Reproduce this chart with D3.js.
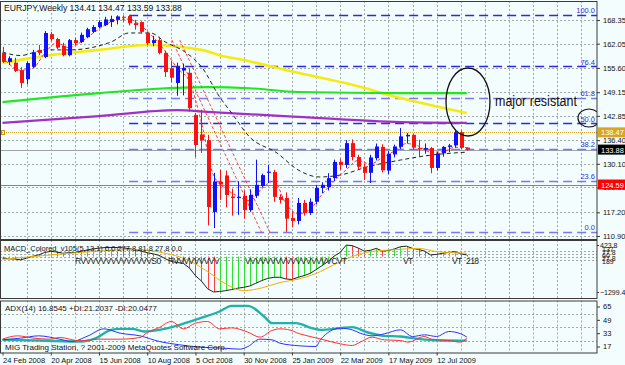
<!DOCTYPE html>
<html>
<head>
<meta charset="utf-8">
<script src="https://cdnjs.cloudflare.com/ajax/libs/d3/7.8.5/d3.min.js"></script>
<style>
	html, body { margin: 0; padding: 0; background: #f4fdfd; }
	svg { display: block; font-family: "Liberation Sans", Arial, sans-serif; }
</style>
</head>
<body>
<svg id="chart" width="625" height="365"></svg>
<script>

// weekly EURJPY bars, 24 Feb 2008 .. 16 Aug 2009
const opens = [159.6,157.2,157.0,155.0,152.6,155.9,160.4,158.5,164.6,163.3,161.5,159.0,163.0,162.5,163.8,165.2,166.5,167.0,167.8,168.4,
	169.2,169.4,167.5,167.8,164.9,162.2,163.0,159.6,155.5,151.6,154.9,154.3,143.1,137.9,136.4,117.3,125.3,127.0,121.4,121.0,
	121.6,117.8,121.6,124.2,127.7,127.9,121.3,121.0,115.7,114.9,119.7,117.0,120.0,123.7,123.9,126.3,130.6,129.8,135.6,131.9,
	129.3,127.7,131.6,134.6,128.3,132.6,134.6,137.4,137.8,134.3,133.9,134.3,129.0,132.9,134.6,135.0,138.5,134.41];
const highs = [161.2,158.7,158.3,155.8,157.4,160.4,161.7,165.4,165.2,163.6,162.3,163.3,163.6,165.0,166.3,167.0,168.3,169.2,169.5,169.6,
	169.6,169.70,168.4,168.0,165.3,164.1,163.9,160.2,157.4,157.0,156.7,155.5,143.6,144.5,137.8,127.7,128.5,128.3,123.5,125.5,
	123.0,123.3,131.2,127.5,129.8,128.5,122.0,122.5,117.5,121.0,120.5,120.9,124.5,125.2,127.6,131.2,131.5,136.4,136.6,132.5,
	130.2,132.5,135.5,135.3,133.5,135.2,139.6,138.3,138.0,136.5,135.5,134.6,133.3,134.8,135.4,139.0,139.0,134.47];
const lows = [156.9,156.4,154.5,150.3,151.2,155.6,159.0,158.2,162.8,160.6,158.7,158.7,161.7,162.2,163.5,164.9,166.2,166.7,166.5,167.2,
	167.9,166.9,165.8,164.8,161.6,161.4,159.2,153.2,151.8,148.2,148.3,144.0,131.9,133.0,113.7,113.0,120.5,118.5,116.3,116.5,
	115.5,117.3,121.0,123.8,125.0,120.0,119.5,112.00,113.2,114.0,116.3,116.5,119.3,122.3,123.0,125.5,128.5,129.0,131.0,128.7,
	125.8,125.0,131.0,127.8,127.3,131.8,134.0,135.5,133.8,132.0,132.8,127.6,128.3,132.0,133.2,134.4,134.0,133.59];
const closes = [157.2,158.2,154.8,151.6,156.9,159.8,159.6,164.9,163.3,161.0,159.0,163.0,162.2,164.4,165.9,166.5,167.8,168.5,168.6,169.3,
	169.0,167.5,167.0,165.2,162.2,163.0,159.6,154.5,153.0,155.9,155.6,144.9,135.1,136.3,118.6,125.3,124.6,121.8,121.0,121.3,
	117.8,121.8,124.5,127.1,128.0,121.3,120.5,115.5,114.9,119.7,117.0,120.0,123.7,124.5,126.3,130.6,129.8,135.6,131.9,129.3,
	127.7,131.8,134.7,128.4,132.8,134.7,137.4,137.8,134.4,133.9,134.3,129.0,132.9,134.6,135.0,138.5,134.4,133.88];

// moving averages, [bar, price]
const yellowMA = [[0,156.9],[8,159.0],[16,160.4],[24,161.7],[33,160.4],[36,159.0],[40,157.7],[49,154.3],[58,151.1],[66,147.6],[77,143.6]];
const greenMA = [[0,146.5],[16,148.9],[25,150.0],[34,150.5],[41,150.2],[49,149.2],[66,148.9],[77,148.9]];
const purpleMA = [[0,141.0],[16,142.8],[29,144.4],[34,143.9],[49,142.6],[66,141.2],[77,141.0]];
const redMA = [[0,158.5],[3,155.0],[5,155.5],[7,159.5],[9,162.3],[11,161.0],[13,162.5],[15,164.8],[17,167.0],[19,168.4],[21,168.6],
	[23,166.8],[25,163.8],[27,160.0],[29,155.5],[31,152.0],[33,141.0],[35,127.0],[37,123.5],[39,121.5],[41,120.3],[43,123.5],
	[45,125.5],[47,119.5],[49,116.8],[51,118.0],[53,122.0],[55,125.5],[57,128.5],[59,131.0],[61,130.0],[63,131.8],[65,133.5],
	[67,135.5],[69,134.8],[71,133.2],[73,133.3],[75,134.5],[77,134.4]];
const blackMA = [[0,159.8],[3,158.9],[7,160.4],[11,160.4],[18,162.5],[21,164.9],[24.5,164.9],[27,162.5],[30.5,159.6],[33,155.9],
	[36,147.9],[38,143.6],[41,137.2],[45.5,133.0],[49,128.5],[52.5,126.6],[56,127.1],[60.5,129.3],[66,131.1],[71,132.4],[75,133.0],[77,133.2]];
// two red dashed trend lines, [bar, price]
const trendLines = [[[28.1,163.0],[43.0,111.7]], [[29.4,163.0],[44.4,111.7]]];

// fibonacci retracement and horizontal levels
const fibHigh = 169.70, fibLow = 112.00, fibBar = 21;
const fibLevels = [100.0, 76.4, 61.8, 50.0, 38.2, 23.6, 0.0];
const bidPrice = 133.88, alertPrice = 138.47, supportPrice = 124.59;
const priceTicks = [168.35, 162.05, 155.60, 149.15, 142.85, 136.40, 130.10, 123.80, 117.20, 110.90];

// MACD panel
const macdMain = [-60,-80,-90,-120,-60,10,60,150,190,170,120,140,150,190,240,280,310,330,335,330,
	320,290,250,200,140,100,40,-80,-180,-220,-250,-420,-700,-900,-1180,-1299,-1280,-1250,-1210,-1160,
	-1130,-1080,-980,-880,-800,-760,-760,-820,-840,-760,-700,-620,-480,-330,-180,20,150,420,400,310,
	200,230,300,200,220,280,360,380,300,260,200,60,80,120,150,180,100,60];
const macdSignal = [[0,-100],[8,60],[16,200],[22,260],[27,120],[31,-150],[34,-550],[37,-1000],[40,-1250],[43,-1150],[46,-950],
	[49,-830],[52,-620],[55,-300],[58,0],[61,180],[65,250],[69,300],[72,180],[75,140],[77,120]];
const macdTicks = [423.8, -1299.4];
const macdLevelTags = [[249, '137'], [252, '77.8'], [255, '60'], [258, '27.8'], [261, '189']];

// ADX panel, [bar, value]
const adxLine = [[0,17.8],[6,17],[13,15.8],[15.5,19.8],[18,29.8],[19.5,31],[21.5,31],[23.5,27.8],[26,29.8],[29.4,35.8],[32.8,43.8],
	[36,51.8],[38,58.6],[40.7,58.6],[43.4,45.8],[44.7,37.8],[48.7,37.8],[51.3,31.8],[52.7,29.8],[56,31.8],[58,33],[60.6,26.6],
	[63.3,22.6],[66,21.8],[69.2,18.6],[72.6,17],[77,16.9]];
const plusDI = [[0,17.8],[3,19.8],[6,22.6],[9.5,18.6],[11.5,15.8],[14.2,22.6],[16.8,31],[19.5,25.8],[22.8,22.6],[26,15.8],[29.4,11.8],
	[32.8,9],[36.7,7.8],[39.4,6.6],[40.7,9.8],[42.7,18.6],[44.7,17.8],[46,13.8],[49.3,10.6],[52,9.8],[52.7,17.8],[56,31.8],
	[58,29.8],[59.3,25.8],[61.3,22.6],[63.3,25],[66,29.8],[68,21.8],[70,23.8],[72,21.8],[74,27.8],[76,25],[77,21.2]];
const minusDI = [[0,18.6],[2.5,22.6],[5,20],[7.8,18.6],[9.5,20.6],[12.8,16.6],[16,18.6],[19.5,18.6],[22.8,20.6],[24,26.6],[26,32.6],
	[28,39.8],[30,31],[32,37.8],[34,39.8],[36,31],[38,32.2],[40.7,27],[42.7,21],[44.7,29],[46,31],[47.3,30.2],[49.3,25],
	[52.7,19],[56,13],[58,11],[59.3,15],[61.3,21],[63.3,17.8],[66,17],[67.3,15],[69.9,21.8],[71.2,18.6],[73.9,17],[76,15],[77,20.05]];
const adxTicks = [65, 49, 33, 17];

const dateTickBars = [0, 8, 16, 24, 32, 40, 48, 56, 64, 72];
const dateLabels = ["24 Feb 2008", "20 Apr 2008", "15 Jun 2008", "10 Aug 2008", "5 Oct 2008",
	"30 Nov 2008", "25 Jan 2009", "22 Mar 2009", "17 May 2009", "12 Jul 2009"];

const BG = '#f4fdfd',
	GRID = '#a3a9a9',
	FRAME = '#3a3a3a',
	BULL = '#1010ff',
	BEAR = '#ff1010',
	PLOT_RIGHT = 597,
	MAIN_TOP = 1, MAIN_BOTTOM = 239,
	MACD_TOP = 240, MACD_BOTTOM = 298,
	ADX_TOP = 300.5, ADX_BOTTOM = 352.5;

let svg = d3.select('#chart');
svg.append('rect').attr('width', 625).attr('height', 365).attr('fill', BG);

let x = d3.scaleLinear().domain([0, 77]).range([2.5, 2.5 + 77 * 6.03]),
	y = d3.scaleLinear().domain([110.90, 168.35]).range([236, 20]),
	yMacd = d3.scaleLinear().domain([-1299.4, 423.8]).range([292, 245]),
	yAdx = d3.scaleLinear().domain([17, 65]).range([340.5, 300.5]);

// clip regions for each panel
let defs = svg.append('defs');
[['clipMain', MAIN_TOP, MAIN_BOTTOM], ['clipMacd', MACD_TOP, MACD_BOTTOM], ['clipAdx', ADX_TOP, ADX_BOTTOM]].forEach(c => {
	defs.append('clipPath').attr('id', c[0]).append('rect')
		.attr('x', 1).attr('y', c[1]).attr('width', PLOT_RIGHT - 1).attr('height', c[2] - c[1]);
});

let main = svg.append('g').attr('clip-path', 'url(#clipMain)'),
	macdG = svg.append('g').attr('clip-path', 'url(#clipMacd)'),
	adxG = svg.append('g').attr('clip-path', 'url(#clipAdx)');

// vertical grid every 4 bars
let gridBars = d3.range(4, 99, 4);
[[main, MAIN_TOP, MAIN_BOTTOM], [macdG, MACD_TOP, MACD_BOTTOM], [adxG, ADX_TOP, ADX_BOTTOM]].forEach(p => {
	p[0].selectAll('line.vgrid').data(gridBars).join('line').attr('class', 'vgrid')
		.attr('x1', d => Math.round(x(d)) + 0.5).attr('x2', d => Math.round(x(d)) + 0.5)
		.attr('y1', p[1]).attr('y2', p[2])
		.attr('stroke', GRID).attr('stroke-dasharray', '2,2');
});

// horizontal grid at the price labels
main.selectAll('line.hgrid').data(priceTicks).join('line').attr('class', 'hgrid')
	.attr('x1', 0).attr('x2', PLOT_RIGHT)
	.attr('y1', d => Math.round(y(d)) + 0.5).attr('y2', d => Math.round(y(d)) + 0.5)
	.attr('stroke', GRID).attr('stroke-dasharray', '2,2');

// horizontal price lines
main.append('line').attr('x1', 0).attr('x2', PLOT_RIGHT)
	.attr('y1', Math.round(y(bidPrice)) + 0.5).attr('y2', Math.round(y(bidPrice)) + 0.5)
	.attr('stroke', '#a0a4a8');
main.append('line').attr('x1', 0).attr('x2', PLOT_RIGHT)
	.attr('y1', Math.round(y(supportPrice)) + 0.5).attr('y2', Math.round(y(supportPrice)) + 0.5)
	.attr('stroke', '#ff5050');
main.append('line').attr('x1', 0).attr('x2', PLOT_RIGHT)
	.attr('y1', Math.round(y(alertPrice)) + 0.5).attr('y2', Math.round(y(alertPrice)) + 0.5)
	.attr('stroke', '#daa520').attr('stroke-dasharray', '1,1');
main.append('rect').attr('x', 1.5).attr('y', Math.round(y(alertPrice)) - 1.5).attr('width', 3).attr('height', 4)
	.attr('fill', 'none').attr('stroke', '#c89020');

// fibonacci levels
let fibY = lv => y(fibLow + (fibHigh - fibLow) * lv / 100);
main.selectAll('line.fib').data(fibLevels).join('line').attr('class', 'fib')
	.attr('x1', x(fibBar)).attr('x2', PLOT_RIGHT)
	.attr('y1', d => Math.round(fibY(d)) + 0.5).attr('y2', d => Math.round(fibY(d)) + 0.5)
	.attr('stroke', d => (d === 100 || d === 76.4 || d === 50) ? '#2a2ae0' : '#7878f0')
	.attr('stroke-width', 1.3)
	.attr('stroke-dasharray', '9,5');
main.selectAll('text.fib').data(fibLevels).join('text').attr('class', 'fib')
	.attr('x', 595).attr('y', d => fibY(d) - 1.5)
	.attr('text-anchor', 'end').attr('font-size', 7.5).attr('fill', '#3030e0')
	.text(d => d.toFixed(1));

// moving averages
let maLine = d3.line().x(d => x(d[0])).y(d => y(d[1])).curve(d3.curveMonotoneX);
main.append('path').attr('d', maLine(yellowMA)).attr('fill', 'none').attr('stroke', '#f4ec10').attr('stroke-width', 2.6);
main.append('path').attr('d', maLine(greenMA)).attr('fill', 'none').attr('stroke', '#22e622').attr('stroke-width', 2.2);
main.append('path').attr('d', maLine(purpleMA)).attr('fill', 'none').attr('stroke', '#a030c8').attr('stroke-width', 2.2);
main.append('path').attr('d', maLine(blackMA)).attr('fill', 'none').attr('stroke', '#202020').attr('stroke-dasharray', '4,3');
main.append('path').attr('d', maLine(redMA)).attr('fill', 'none').attr('stroke', '#ff3030').attr('stroke-dasharray', '3,2');
trendLines.forEach(t => {
	main.append('path').attr('d', d3.line().x(d => x(d[0])).y(d => y(d[1]))(t))
		.attr('fill', 'none').attr('stroke', '#ff4040').attr('stroke-dasharray', '3,2');
});

// candles
let bars = d3.range(opens.length),
	candles = main.selectAll('g.candle').data(bars).join('g').attr('class', 'candle');
candles.append('line')
	.attr('x1', i => Math.round(x(i)) + 0.5).attr('x2', i => Math.round(x(i)) + 0.5)
	.attr('y1', i => y(highs[i])).attr('y2', i => y(lows[i]))
	.attr('stroke', i => closes[i] >= opens[i] ? BULL : BEAR);
candles.append('rect')
	.attr('x', i => Math.round(x(i)) - 1)
	.attr('width', 4)
	.attr('y', i => y(Math.max(opens[i], closes[i])))
	.attr('height', i => Math.max(1, Math.abs(y(opens[i]) - y(closes[i]))))
	.attr('fill', i => closes[i] >= opens[i] ? BULL : BEAR);

// annotations
main.append('ellipse').attr('cx', 468).attr('cy', 102).attr('rx', 22).attr('ry', 34)
	.attr('fill', 'none').attr('stroke', '#111').attr('stroke-width', 1.3);
main.append('ellipse').attr('cx', 589).attr('cy', 118).attr('rx', 11).attr('ry', 9)
	.attr('fill', 'none').attr('stroke', '#111').attr('stroke-width', 1.2);
svg.append('text').attr('x', 495).attr('y', 106).attr('font-size', 14).attr('fill', '#111')
	.attr('textLength', 82).attr('lengthAdjust', 'spacingAndGlyphs')
	.text('major resistant');
svg.append('text').attr('x', 4).attr('y', 11).attr('font-size', 8.6).attr('fill', '#111')
	.text('EURJPY,Weekly  134.41 134.47 133.59 133.88');

// MACD histogram, main and signal
let zeroY = yMacd(0);
macdG.selectAll('line.hist').data(bars).join('line').attr('class', 'hist')
	.attr('x1', i => Math.round(x(i)) + 0.5).attr('x2', i => Math.round(x(i)) + 0.5)
	.attr('y1', zeroY).attr('y2', i => yMacd(macdMain[i]))
	.attr('stroke', i => (i > 0 && macdMain[i] < macdMain[i - 1]) ? '#ff4040' : '#30e030');
[251, 254, 257, 260].forEach(ly => {
	macdG.append('line').attr('x1', 0).attr('x2', PLOT_RIGHT).attr('y1', ly + 0.5).attr('y2', ly + 0.5)
		.attr('stroke', GRID).attr('stroke-dasharray', '2,2');
});
macdG.append('path').attr('d', d3.line().x(i => x(i)).y(i => yMacd(macdMain[i]))(bars))
	.attr('fill', 'none').attr('stroke', '#222');
macdG.append('path').attr('d', d3.line().x(d => x(d[0])).y(d => yMacd(d[1])).curve(d3.curveMonotoneX)(macdSignal))
	.attr('fill', 'none').attr('stroke', '#f0b000');
macdG.append('text').attr('x', 4).attr('y', 251).attr('font-size', 7.5).attr('fill', '#111')
	.text('MACD_Colored_v105(5,13,1) 0.0 277.8 81.8 27.8 0.0');
[[75, 'RVVVVVVVVVVVVVVS0'], [168, 'RVVVVVVVVV'], [245, 'VVVVVVVVVVVVVVVVVCVT'], [403, 'VT'], [452, 'VT'], [466, '218']].forEach(t => {
	macdG.append('text').attr('x', t[0]).attr('y', 264).attr('font-size', 8.5).attr('fill', '#222')
		.attr('letter-spacing', -0.6).text(t[1]);
});

// ADX lines
let adxPath = d3.line().x(d => x(d[0])).y(d => yAdx(d[1])).curve(d3.curveMonotoneX);
adxG.selectAll('line.lvl').data(adxTicks.slice(1)).join('line').attr('class', 'lvl')
	.attr('x1', 0).attr('x2', PLOT_RIGHT)
	.attr('y1', d => Math.round(yAdx(d)) + 0.5).attr('y2', d => Math.round(yAdx(d)) + 0.5)
	.attr('stroke', GRID).attr('stroke-dasharray', '2,2');
adxG.append('path').attr('d', adxPath(adxLine)).attr('fill', 'none').attr('stroke', '#20b2aa').attr('stroke-width', 2.4);
adxG.append('path').attr('d', adxPath(plusDI)).attr('fill', 'none').attr('stroke', '#3030ff');
adxG.append('path').attr('d', adxPath(minusDI)).attr('fill', 'none').attr('stroke', '#ff3030');
adxG.append('text').attr('x', 5).attr('y', 311).attr('font-size', 8).attr('fill', '#111')
	.text('ADX(14) 16.8545 +DI:21.2037 -DI:20.0477');
adxG.append('text').attr('x', 5).attr('y', 350).attr('font-size', 8).attr('fill', '#111')
	.text('MIG Trading Station, ? 2001-2009 MetaQuotes Software Corp.');

// panel frames
[[MAIN_TOP, MAIN_BOTTOM], [MACD_TOP, MACD_BOTTOM], [ADX_TOP, ADX_BOTTOM]].forEach(p => {
	svg.append('rect').attr('x', 0.5).attr('y', p[0] + 0.5).attr('width', PLOT_RIGHT - 0.5).attr('height', p[1] - p[0])
		.attr('fill', 'none').attr('stroke', FRAME);
});

// axes
let styleAxis = g => {
	g.select('.domain').remove();
	g.selectAll('line').attr('stroke', FRAME);
	g.selectAll('text').attr('fill', '#111').attr('font-size', 7.5).attr('font-family', '"Liberation Sans", Arial, sans-serif');
};
svg.append('g').attr('transform', 'translate(' + PLOT_RIGHT + ',0)')
	.call(d3.axisRight(y).tickValues(priceTicks).tickFormat(d3.format('.2f')).tickSize(3).tickPadding(3))
	.call(styleAxis);
svg.append('g').attr('transform', 'translate(' + PLOT_RIGHT + ',0)')
	.call(d3.axisRight(yMacd).tickValues(macdTicks).tickFormat(d3.format('.1f')).tickSize(2).tickPadding(1))
	.call(styleAxis)
	.call(g => g.selectAll('text').attr('font-size', 7));
// overlapping level tags of the MACD window
macdLevelTags.forEach(t => {
	svg.append('text').attr('x', 602).attr('y', t[0] + 2.5).attr('font-size', 7).attr('fill', '#111').text(t[1]);
});
svg.append('g').attr('transform', 'translate(' + PLOT_RIGHT + ',6)')
	.call(d3.axisRight(yAdx).tickValues(adxTicks).tickSize(3).tickPadding(3))
	.call(styleAxis);
svg.append('g').attr('transform', 'translate(0,' + ADX_BOTTOM + ')')
	.call(d3.axisBottom(x).tickValues(dateTickBars).tickFormat((d, i) => dateLabels[i]).tickSize(3).tickPadding(2))
	.call(styleAxis)
	.call(g => g.selectAll('text').attr('text-anchor', 'start'));

// price tags on the right scale
[[alertPrice, '#daa520', '138.47'], [bidPrice, '#000', '133.88'], [supportPrice, '#ff0000', '124.59']].forEach(t => {
	let ty = y(t[0]);
	svg.append('rect').attr('x', PLOT_RIGHT + 1).attr('y', ty - 5).attr('width', 27).attr('height', 10).attr('fill', t[1]);
	svg.append('text').attr('x', PLOT_RIGHT + 4).attr('y', ty + 3).attr('font-size', 7.5).attr('fill', '#fff').text(t[2]);
});

</script>
</body>
</html>
